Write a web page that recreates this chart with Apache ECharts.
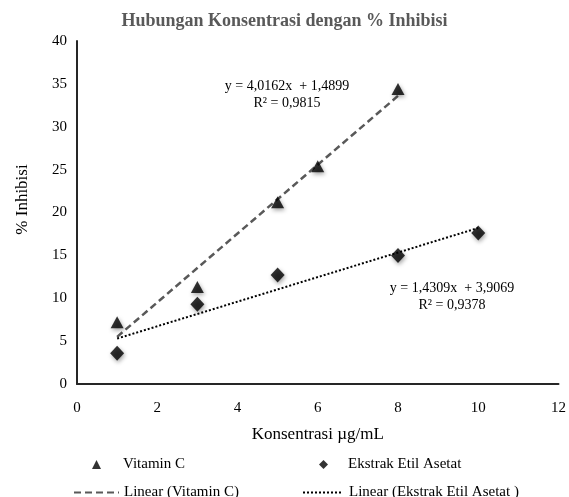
<!DOCTYPE html>
<html>
<head>
<meta charset="utf-8">
<script src="https://cdn.jsdelivr.net/npm/echarts@6/dist/echarts.min.js"></script>
<style>html,body{margin:0;padding:0;background:#fff}#c{width:569px;height:497px}</style>
</head>
<body>
<div id="c"></div>
<script>
const vitX = [1, 3, 5, 6, 8];
const vitY = [7.2, 11.3, 21.2, 25.4, 34.4];
const ekX = [1, 3, 5, 8, 10];
const ekY = [3.6, 9.3, 12.7, 15.0, 17.6];
// trendline endpoints
const vitTrendX = [1, 8];
const vitTrendY = [5.5, 33.6];
const ekTrendX = [1, 10];
const ekTrendY = [5.3, 18.2];
const vitEq = ['y = 4,0162x  + 1,4899', 'R² = 0,9815'];
const ekEq = ['y = 1,4309x  + 3,9069', 'R² = 0,9378'];
const seriesNames = ['Vitamin C', 'Ekstrak Etil Asetat', 'Linear (Vitamin C)', 'Linear (Ekstrak Etil Asetat )'];
const titleText = 'Hubungan Konsentrasi dengan % Inhibisi';
const xName = 'Konsentrasi µg/mL';
const yName = '% Inhibisi';

const zip = (a, b) => a.map((v, i) => [v, b[i]]);
const FONT = '"Liberation Serif", "Times New Roman", serif';
const shadow = {shadowBlur: 4, shadowColor: 'rgba(0,0,0,0.45)', shadowOffsetX: 1, shadowOffsetY: 2};

const chart = echarts.init(document.getElementById('c'), null, {renderer: 'canvas'});
chart.setOption({
  animation: false,
  backgroundColor: '#fff',
  title: {
    text: titleText, left: 'center', top: 7,
    textStyle: {fontFamily: FONT, fontSize: 18, fontWeight: 'bold', color: '#595959'}
  },
  grid: {left: 77, right: 8, top: 41, bottom: 113},
  xAxis: {
    type: 'value', min: 0, max: 12, interval: 2,
    name: xName, nameLocation: 'middle', nameGap: 42,
    nameTextStyle: {fontFamily: FONT, fontSize: 17, color: '#000'},
    axisLine: {show: true, lineStyle: {color: '#262626', width: 2}},
    axisTick: {show: false},
    splitLine: {show: false},
    axisLabel: {fontFamily: FONT, fontSize: 15, color: '#000', margin: 17}
  },
  yAxis: {
    type: 'value', min: 0, max: 40, interval: 5,
    name: yName, nameLocation: 'middle', nameGap: 46, nameRotate: 90,
    nameTextStyle: {fontFamily: FONT, fontSize: 17, color: '#000', padding: [0, 0, 0, 26]},
    axisLine: {show: true, lineStyle: {color: '#262626', width: 2}},
    axisTick: {show: false},
    splitLine: {show: false},
    axisLabel: {fontFamily: FONT, fontSize: 15, color: '#000', margin: 10}
  },
  legend: [
    {data: [{name: seriesNames[0], icon: 'triangle'}], left: 87, top: 452, itemWidth: 9, itemHeight: 9,
     textStyle: {fontFamily: FONT, fontSize: 15, color: '#000', padding: [0, 0, 0, 17]}},
    {data: [{name: seriesNames[1], icon: 'diamond'}], left: 314, top: 452, itemWidth: 9, itemHeight: 9,
     textStyle: {fontFamily: FONT, fontSize: 15, color: '#000', padding: [0, 0, 0, 15]}},
    {data: [{name: seriesNames[2], itemStyle: {opacity: 0}}], left: 68, top: 480, itemWidth: 45, itemHeight: 10,
     textStyle: {fontFamily: FONT, fontSize: 15, color: '#000', padding: [0, 0, 0, 0]}},
    {data: [{name: seriesNames[3], itemStyle: {opacity: 0}}], left: 297, top: 480, itemWidth: 38, itemHeight: 10,
     textStyle: {fontFamily: FONT, fontSize: 15, color: '#000', padding: [0, 0, 0, 3]}}
  ],
  graphic: [
    {type: 'text', x: 287, y: 78, style: {text: vitEq.join('\n'), font: '14px ' + FONT, fill: '#000', align: 'center', lineHeight: 17}},
    {type: 'text', x: 452, y: 280, style: {text: ekEq.join('\n'), font: '14px ' + FONT, fill: '#000', align: 'center', lineHeight: 17}}
  ],
  series: [
    {name: seriesNames[2], type: 'line', data: zip(vitTrendX, vitTrendY), symbol: 'none', z: 1,
     lineStyle: {color: '#595959', width: 2.5, type: [7, 4]}, itemStyle: {color: '#595959'}},
    {name: seriesNames[3], type: 'line', data: zip(ekTrendX, ekTrendY), symbol: 'none', z: 1,
     lineStyle: {color: '#000', width: 2, type: [2, 2]}, itemStyle: {color: '#000'}},
    {name: seriesNames[0], type: 'scatter', data: zip(vitX, vitY), symbol: 'triangle', symbolSize: [13, 12], z: 3,
     itemStyle: Object.assign({color: '#000'}, shadow)},
    {name: seriesNames[1], type: 'scatter', data: zip(ekX, ekY), symbol: 'diamond', symbolSize: [14, 15], z: 3,
     itemStyle: Object.assign({color: '#000'}, shadow)}
  ]
});
</script>
</body>
</html>
